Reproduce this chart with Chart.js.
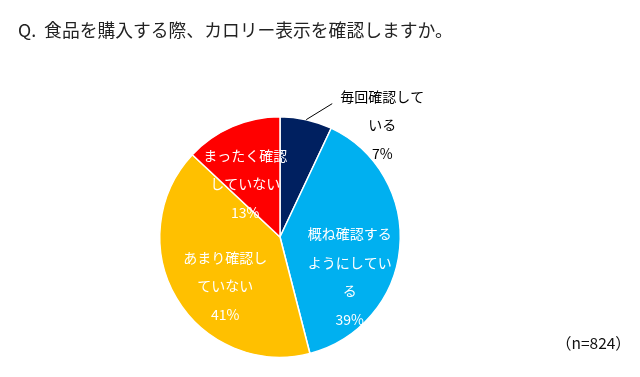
<!DOCTYPE html>
<html>
<head>
<meta charset="utf-8">
<script src="https://cdn.jsdelivr.net/npm/chart.js@4"></script>
<style>
  body { margin: 0; background: #fff; }
  .wrap { position: relative; width: 640px; height: 377px; overflow: hidden; }
  .title {
    position: absolute; left: 18px; top: 16px;
    font-family: "Noto Sans CJK JP", sans-serif; font-size: 17.8px; color: #222;
    white-space: nowrap;
  }
  .note {
    position: absolute; left: 556px; top: 331px;
    font-family: "Noto Sans CJK JP", sans-serif; font-size: 15.5px; color: #111;
  }
</style>
</head>
<body>
<div class="wrap">
  <canvas id="pie" width="640" height="377"></canvas>
  <div class="title">Q.&nbsp; 食品を購入する際、カロリー表示を確認しますか。</div>
  <div class="note">（n=824）</div>
</div>
<script>
const categories = ["毎回確認している", "概ね確認するようにしている", "あまり確認していない", "まったく確認していない"];
const percents = [7, 39, 41, 13];
const colors = ["#002060", "#00B0F0", "#FFC000", "#FF0000"];

// label block centres, as a fraction of the radius from the pie centre
const labelSpots = [
    { dx: 0.85, dy: -0.93, outside: true },
    { dx: 0.58, dy: 0.33 },
    { dx: -0.455, dy: 0.405 },
    { dx: -0.29, dy: -0.44 },
];

const wrapText = (s, n) => {
    let out = [];
    for (let i = 0; i < s.length; i += n) out.push(s.slice(i, i + n));
    return out;
};

const sliceLabels = {
    id: "sliceLabels",
    afterDatasetsDraw(chart) {
        const ctx = chart.ctx;
        const arcs = chart.getDatasetMeta(0).data;
        ctx.save();
        ctx.font = '14px "Noto Sans CJK JP", sans-serif';
        ctx.textAlign = "center";
        ctx.textBaseline = "middle";
        arcs.forEach((arc, i) => {
            const { x, y, outerRadius, startAngle, endAngle } = arc.getProps(["x", "y", "outerRadius", "startAngle", "endAngle"], true);
            const spot = labelSpots[i];
            const cx = x + spot.dx * outerRadius;
            const cy = y + spot.dy * outerRadius;
            const lines = wrapText(categories[i], 6).concat([percents[i] + "%"]);
            const lh = 28.5;
            const top = cy - (lines.length - 1) * lh / 2;
            if (spot.outside) {
                const mid = (startAngle + endAngle) / 2;
                const ex = x + Math.cos(mid) * outerRadius;
                const ey = y + Math.sin(mid) * outerRadius;
                ctx.strokeStyle = "#000";
                ctx.lineWidth = 1;
                ctx.beginPath();
                ctx.moveTo(ex, ey);
                ctx.lineTo(ex + 26, ey - 16);
                ctx.stroke();
                ctx.fillStyle = "#000";
            } else {
                ctx.fillStyle = "#fff";
            }
            lines.forEach((t, k) => ctx.fillText(t, cx, top + k * lh));
        });
        ctx.restore();
    }
};

new Chart(document.getElementById("pie"), {
    type: "pie",
    data: {
        labels: categories,
        datasets: [{
            data: percents,
            backgroundColor: colors,
            borderColor: "#fff",
            borderWidth: 1.5,
        }],
    },
    options: {
        responsive: false,
        animation: false,
        layout: {
            padding: { left: 159, right: 239, top: 116, bottom: 19 },
        },
        plugins: {
            legend: { display: false },
            tooltip: { enabled: false },
        },
    },
    plugins: [sliceLabels],
});
</script>
</body>
</html>
